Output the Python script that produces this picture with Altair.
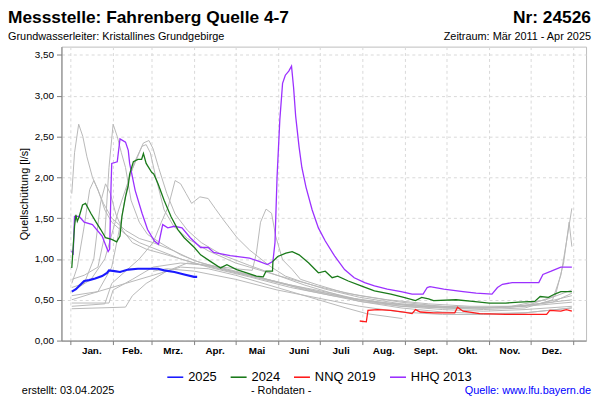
import altair as alt
import pandas as pd

# ---------------- data (day of year, value in l/s) ----------------
y2025_tag = [1, 4, 7.6, 10, 13.6, 18, 23, 26.6, 28, 32, 36, 42, 49, 63.6, 68, 75.5, 82.6, 89.8, 92]
y2025_wert = [0.60, 0.63, 0.69, 0.73, 0.74, 0.76, 0.79, 0.83, 0.86, 0.85, 0.84, 0.87, 0.88, 0.88, 0.86, 0.84, 0.81, 0.78, 0.78]

y2024_tag = [1, 3, 4, 5, 6.4, 8.8, 11, 14.8, 18.3, 22, 25.5, 30, 33.6, 36, 37.4, 40, 42, 43, 45.7, 49, 51.7, 53, 55, 59,
             60.5, 63.6, 68, 73, 78, 82.6, 90, 94.5, 101.6, 109, 113.6, 120.7, 127.9, 135, 140, 142, 146.7, 147, 150.5,
             156.4, 161, 166, 173, 180, 185, 190, 194, 201.7, 211, 220.7, 232.6, 242, 250.5, 255, 260, 263.6, 280, 292,
             304, 316, 325.5, 337, 341, 347, 351.6, 356, 364]
y2024_wert = [0.89, 1.40, 1.54, 1.46, 1.52, 1.66, 1.68, 1.56, 1.46, 1.36, 1.26, 1.24, 1.21, 1.28, 1.52, 1.76, 1.90, 2.04,
              2.19, 2.22, 2.22, 2.29, 2.17, 2.06, 2.04, 1.92, 1.72, 1.52, 1.36, 1.26, 1.14, 1.05, 0.97, 0.89, 0.93, 0.87,
              0.83, 0.79, 0.78, 0.85, 0.85, 0.97, 1.03, 1.07, 1.09, 1.05, 0.95, 0.83, 0.85, 0.77, 0.79, 0.73, 0.67, 0.61,
              0.57, 0.53, 0.49, 0.53, 0.51, 0.49, 0.50, 0.48, 0.46, 0.46, 0.47, 0.48, 0.54, 0.53, 0.57, 0.60, 0.60]

nnq2019_tag = [210, 214.8, 216, 223, 232.6, 242, 248, 250.5, 254, 263.6, 279, 281, 285, 297, 316, 329, 345.7, 348, 356, 360, 364]
nnq2019_wert = [0.24, 0.23, 0.37, 0.38, 0.37, 0.35, 0.33, 0.38, 0.35, 0.34, 0.34, 0.41, 0.36, 0.33, 0.32, 0.32, 0.32, 0.37,
                0.36, 0.38, 0.36]

hhq2013_tag = [1, 2, 3, 6.4, 10, 16, 23, 27.4, 28.5, 29.5, 30, 34, 36, 40, 42, 43, 47, 52, 56, 61, 64, 67, 70.7, 75.5, 81,
               87, 94.5, 100, 104, 116, 130, 137, 143, 147, 148.5, 150, 152, 154, 156, 158.5, 160.5, 162, 163.5, 166,
               168, 171, 175.5, 180, 185, 192, 199, 206, 213.6, 220.7, 230, 240, 248, 256, 259, 261, 271, 285, 294.5,
               306, 310, 313.6, 320.7, 340, 343, 349, 356, 364]
hhq2013_wert = [1.10, 1.05, 1.52, 1.52, 1.45, 1.42, 1.28, 1.09, 1.12, 1.90, 2.17, 2.19, 2.47, 2.43, 2.33, 2.17, 1.84, 1.56,
                1.36, 1.22, 1.18, 1.42, 1.38, 1.40, 1.38, 1.26, 1.14, 1.14, 1.08, 1.04, 1.01, 0.97, 0.93, 0.97, 1.20,
                2.00, 2.70, 3.15, 3.25, 3.30, 3.36, 3.10, 2.75, 2.37, 2.12, 1.88, 1.60, 1.38, 1.22, 1.03, 0.87, 0.77,
                0.71, 0.67, 0.63, 0.60, 0.57, 0.57, 0.65, 0.66, 0.63, 0.60, 0.58, 0.57, 0.65, 0.69, 0.71, 0.71, 0.81,
                0.85, 0.90, 0.90]

# other years (grey background lines): [day, value]
grau_2012 = [[1, 1.80], [3, 2.30], [6, 2.65], [9, 2.50], [12, 2.25], [16, 2.00], [20, 1.84], [24, 1.68], [30, 1.50],
             [40, 1.35], [50, 1.25], [60, 1.20], [75, 1.10], [90, 0.98], [110, 0.88], [130, 0.80], [150, 0.72],
             [170, 0.62], [190, 0.55], [210, 0.48], [240, 0.42], [270, 0.40], [300, 0.40], [330, 0.42], [364, 0.47]]
grau_2014 = [[1, 0.75], [10, 0.80], [20, 0.90], [25, 1.30], [28, 2.12], [31, 2.65], [34, 2.50], [37, 2.30],
             [40, 2.12], [44, 1.72], [50, 1.45], [56, 1.30], [65, 1.20], [80, 1.05], [95, 0.95], [120, 0.85],
             [150, 0.72], [180, 0.60], [210, 0.50], [240, 0.44], [270, 0.40], [300, 0.38], [330, 0.40], [350, 0.50],
             [356, 0.80], [360, 1.20], [364, 1.62]]
grau_2015 = [[1, 0.50], [20, 0.60], [30, 0.90], [36, 1.40], [42, 1.96], [47, 2.20], [53, 2.42], [57, 2.45],
             [60, 2.35], [64, 2.12], [70, 1.80], [76, 1.55], [85, 1.35], [95, 1.20], [110, 1.05], [130, 0.92],
             [150, 0.80], [170, 0.68], [190, 0.58], [210, 0.50], [240, 0.42], [270, 0.38], [300, 0.36], [330, 0.38],
             [364, 0.42]]
grau_2016 = [[1, 0.60], [15, 0.75], [25, 1.00], [35, 1.60], [45, 2.10], [52, 2.38], [55, 2.40], [58, 2.30],
             [62, 2.00], [68, 1.60], [75, 1.40], [85, 1.25], [100, 1.10], [120, 0.95], [150, 0.80], [180, 0.66],
             [210, 0.55], [240, 0.47], [270, 0.42], [300, 0.40], [330, 0.42], [352, 0.55], [358, 0.95], [362, 1.45],
             [364, 1.15]]
grau_2017 = [[1, 0.70], [5, 0.90], [10, 1.40], [14, 1.85], [17, 1.96], [20, 1.85], [25, 1.60], [30, 1.45],
             [40, 1.30], [50, 1.20], [65, 1.10], [80, 1.00], [100, 0.90], [130, 0.78], [160, 0.65], [190, 0.55],
             [220, 0.47], [250, 0.42], [280, 0.40], [310, 0.40], [340, 0.45], [364, 0.55]]
grau_2018 = [[1, 0.65], [10, 0.70], [17, 1.00], [22, 1.70], [25.5, 1.92], [29, 1.80], [33, 1.55], [38, 1.35],
             [45, 1.20], [55, 1.12], [70, 1.05], [90, 0.95], [110, 0.87], [140, 0.75], [170, 0.63], [200, 0.53],
             [230, 0.46], [260, 0.42], [290, 0.40], [320, 0.41], [350, 0.47], [364, 0.58]]
grau_2020 = [[1, 0.42], [25, 0.45], [30, 0.70], [40, 0.85], [50, 1.00], [60, 1.20], [66, 1.45], [71, 1.64],
             [76, 1.96], [80, 1.92], [84, 1.80], [88, 1.68], [94, 1.76], [100, 1.74], [105, 1.62], [111, 1.48],
             [121, 1.26], [130, 1.11], [145, 0.91], [156, 0.79], [168, 0.72], [185, 0.63], [210, 0.53], [240, 0.45],
             [270, 0.42], [300, 0.40], [330, 0.43], [364, 0.50]]
grau_2021 = [[1, 0.46], [28, 0.46], [31, 0.62], [45, 0.75], [60, 0.90], [80, 0.95], [100, 0.92], [120, 0.88],
             [132, 0.86], [135, 1.07], [138, 1.45], [142, 1.61], [146, 1.56], [149, 1.28], [154, 0.99], [161, 0.87],
             [167, 0.75], [180, 0.68], [200, 0.58], [230, 0.50], [260, 0.45], [290, 0.42], [320, 0.42], [345, 0.50],
             [364, 0.62]]
grau_2022 = [[1, 0.39], [40, 0.41], [45, 0.55], [55, 0.70], [70, 0.85], [85, 0.95], [100, 0.92], [130, 0.80],
             [160, 0.68], [190, 0.58], [210, 0.48], [240, 0.40], [270, 0.35], [300, 0.33], [330, 0.34], [364, 0.40]]
grau_2011 = [[60, 0.85], [70, 0.88], [90, 0.85], [120, 0.75], [150, 0.62], [180, 0.52], [210, 0.42], [240, 0.35],
             [270, 0.32], [300, 0.32], [330, 0.34], [364, 0.40]]
grau_2023 = [[1, 0.55], [20, 0.60], [40, 0.70], [60, 0.80], [80, 0.90], [100, 0.88], [120, 0.80], [150, 0.65],
             [180, 0.50], [200, 0.40], [215, 0.33], [241, 0.27]]

monate = ["Jan.", "Feb.", "Mrz.", "Apr.", "Mai", "Juni", "Juli", "Aug.", "Sept.", "Okt.", "Nov.", "Dez."]
monat_mitte = [15.5, 45, 74.5, 105, 135.5, 166, 196.5, 227.5, 258, 288.5, 319, 349.5]
monat_start = [0, 31, 59, 90, 120, 151, 181, 212, 243, 273, 304, 334, 365]
y_ticks = [0, 0.25, 0.5, 0.75, 1.0, 1.25, 1.5, 1.75, 2.0, 2.25, 2.5, 2.75, 3.0, 3.25, 3.5]

# ---------------- build tables ----------------
grau = {"2011": grau_2011, "2012": grau_2012, "2014": grau_2014, "2015": grau_2015, "2016": grau_2016,
        "2017": grau_2017, "2018": grau_2018, "2020": grau_2020, "2021": grau_2021, "2022": grau_2022,
        "2023": grau_2023}
rows = []
for name, pts in grau.items():
    for i, (t, w) in enumerate(pts):
        rows.append({"serie": name, "tag": t, "wert": w, "ord": i})
df_grau = pd.DataFrame(rows)


def mk(name, tage, werte):
    return pd.DataFrame({"serie": name, "tag": tage, "wert": werte, "ord": range(len(tage))})


df_2025 = mk("2025", y2025_tag, y2025_wert)
df_2024 = mk("2024", y2024_tag, y2024_wert)
df_nnq = mk("NNQ 2019", nnq2019_tag, nnq2019_wert)
df_hhq = mk("HHQ 2013", hhq2013_tag, hhq2013_wert)

FONT = "Liberation Sans"
W, H = 530, 297
XDOM = [-6.5, 374.3]
YDOM = [0, 3.6]

xscale = alt.Scale(domain=XDOM, nice=False, zero=False)
yscale = alt.Scale(domain=YDOM, nice=False)

x_enc = alt.X("tag:Q", scale=xscale,
              axis=alt.Axis(values=monat_start, labels=False, title=None, tickSize=4, tickColor="#808080",
                            domainColor="#808080", grid=True, gridColor="#d9d9d9", gridDash=[3, 3]))
y_enc = alt.Y("wert:Q", scale=yscale,
              axis=alt.Axis(values=y_ticks, title="Quellschüttung [l/s]", titleFont=FONT, titleFontSize=11,
                            titleFontWeight="normal", titlePadding=5, titleColor="#000000",
                            labelExpr="replace(format(datum.value, '.2f'), '.', ',')",
                            labelFont=FONT, labelFontSize=10, labelColor="#000000", tickSize=5,
                            tickColor="#808080", domainColor="#808080", grid=True,
                            gridColor="#d9d9d9", gridDash=[3, 3], labelPadding=3))

grey = alt.Chart(df_grau).mark_line(color="#b8b8b8", strokeWidth=1).encode(
    x=x_enc, y=y_enc, detail="serie:N", order="ord:Q")

legend_names = ["2025", "2024", "NNQ 2019", "HHQ 2013"]
legend_colors = ["#1a1aff", "#1a7a1a", "#ff1a1a", "#9b30ff"]
cscale = alt.Scale(domain=legend_names, range=legend_colors)
legend = alt.Legend(title=None, orient="none", legendX=106, legendY=325, direction="horizontal",
                    symbolType="stroke", symbolSize=260, symbolStrokeWidth=1.6, labelFont=FONT,
                    labelFontSize=13, labelColor="#000000", columnPadding=10, labelOffset=4)


def colored(df, sw, show_legend=False):
    return alt.Chart(df).mark_line(strokeWidth=sw).encode(
        x="tag:Q", y="wert:Q", order="ord:Q",
        color=alt.Color("serie:N", scale=cscale, legend=legend if show_legend else None))


l_hhq = colored(df_hhq, 1.3, True)
l_nnq = colored(df_nnq, 1.3)
l_2024 = colored(df_2024, 1.3)
l_2025 = colored(df_2025, 2.2)

# month labels under the axis
df_mon = pd.DataFrame({"tag": monat_mitte, "name": monate})
mon = alt.Chart(df_mon).mark_text(font=FONT, fontSize=10, fontWeight="bold", baseline="middle",
                                  align="center", color="#000000").encode(
    x="tag:Q", y=alt.value(308), text="name:N")


def txt(s, x, y, size, align="left", weight="normal", color="#000000", baseline="alphabetic"):
    return alt.Chart(pd.DataFrame({"t": [s]})).mark_text(
        font=FONT, fontSize=size, fontWeight=weight, align=align, color=color, baseline=baseline).encode(
        x=alt.value(x), y=alt.value(y), text="t:N")


texts = [
    txt("Messstelle: Fahrenberg Quelle 4-7", -54, -23.5, 17.5, weight="bold"),
    txt("Nr: 24526", 535, -23.5, 17.5, align="right", weight="bold"),
    txt("Grundwasserleiter: Kristallines Grundgebirge", -54, -7, 11),
    txt("Zeitraum: Mär 2011 - Apr 2025", 535, -7, 11, align="right"),
    txt("erstellt:  03.04.2025", -40, 348, 11, baseline="middle"),
    txt("- Rohdaten -", 222, 348, 11, align="center", baseline="middle"),
    txt("Quelle: www.lfu.bayern.de", 535, 348, 11, align="right", color="#0000ff", baseline="middle"),
]

chart = alt.layer(grey, l_hhq, l_nnq, l_2024, l_2025, mon, *texts).properties(
    width=W, height=H,
    autosize=alt.AutoSizeParams(type="none"),
    padding={"left": 54, "top": 37, "right": 6, "bottom": 58},
    background="#ffffff",
).configure_view(stroke="#bdbdbd", strokeWidth=1)

chart.save("out.html", embed_options={"renderer": "svg", "actions": False})
